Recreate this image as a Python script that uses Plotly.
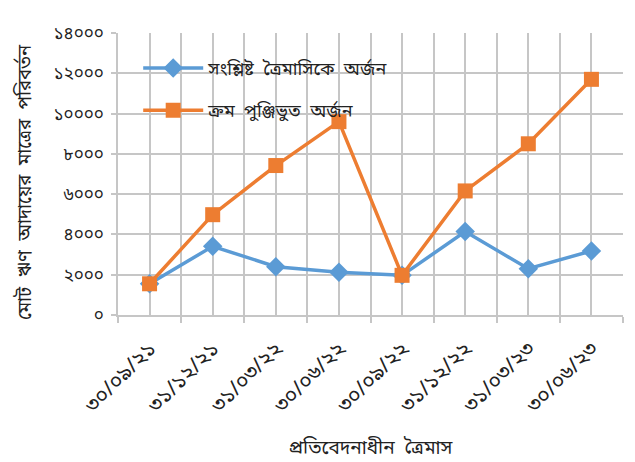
import plotly.graph_objects as go

quarters = ["৩০/০৯/২১", "৩১/১২/২১", "৩১/০৩/২২", "৩০/০৬/২২",
            "৩০/০৯/২২", "৩১/১২/২২", "৩১/০৩/২৩", "৩০/০৬/২৩"]
quarterly = [1550, 3410, 2400, 2120, 1970, 4140, 2300, 3180]
cumulative = [1550, 4980, 7420, 9600, 1970, 6160, 8500, 11700]
y_ticks = [0, 2000, 4000, 6000, 8000, 10000, 12000, 14000]
y_tick_text = ["০", "২০০০", "৪০০০", "৬০০০", "৮০০০", "১০০০০", "১২০০০", "১৪০০০"]
series_names = ["সংশ্লিষ্ট  ত্রৈমাসিকে  অর্জন", "ক্রম  পুঞ্জিভুত  অর্জন"]
x_title = "প্রতিবেদনাধীন  ত্রৈমাস"
y_title = "মোট  ঋণ  আদায়ের  মাত্রের  পরিবর্তন"

xs = list(range(len(quarters)))
bounds = [i - 0.5 for i in range(len(quarters) + 1)]
FONT = "Noto Sans Bengali, Lohit Bengali, Noto Sans, sans-serif"
GRID = "#C6C6C6"

fig = go.Figure()
fig.add_trace(go.Scatter(
    x=xs, y=quarterly, name=series_names[0], mode="lines+markers",
    line=dict(color="#5B9BD5", width=3.5),
    marker=dict(symbol="diamond", size=15, color="#5B9BD5"),
    legend="legend"))
fig.add_trace(go.Scatter(
    x=xs, y=cumulative, name=series_names[1], mode="lines+markers",
    line=dict(color="#ED7D31", width=3.5),
    marker=dict(symbol="square", size=15, color="#ED7D31"),
    legend="legend2"))

fig.update_layout(
    width=627, height=454,
    margin=dict(l=110, r=12, t=25, b=147),
    paper_bgcolor="white", plot_bgcolor="white",
    font=dict(family=FONT, color="#222222", size=17),
    showlegend=True,
    legend=dict(x=0.04, y=0.875, xanchor="left", yanchor="middle",
                bgcolor="rgba(0,0,0,0)", font=dict(size=18), itemwidth=60),
    legend2=dict(x=0.04, y=0.725, xanchor="left", yanchor="middle",
                 bgcolor="rgba(0,0,0,0)", font=dict(size=18), itemwidth=60),
    xaxis=dict(
        range=[-0.5, len(quarters) - 0.5], automargin=False,
        tickmode="array", tickvals=xs, ticktext=quarters,
        tickangle=-45, ticks="", showgrid=True, gridcolor=GRID, gridwidth=1.5,
        tickfont=dict(size=21), ticklabelstandoff=11,
        minor=dict(tickmode="array", tickvals=bounds, ticks="outside",
                   ticklen=6, tickcolor=GRID, tickwidth=1.5,
                   showgrid=True, gridcolor=GRID, gridwidth=1.5),
        showline=True, linecolor=GRID, linewidth=1.5, zeroline=False,
        title=dict(text=x_title, font=dict(size=19), standoff=28),
    ),
    yaxis=dict(
        range=[0, 14000], automargin=False,
        tickmode="array", tickvals=y_ticks, ticktext=y_tick_text,
        ticks="outside", ticklen=5, tickcolor=GRID, tickwidth=1.5,
        ticklabelstandoff=4,
        showgrid=True, gridcolor=GRID, gridwidth=1.5,
        showline=True, linecolor=GRID, linewidth=1.5, zeroline=False,
        tickfont=dict(size=17),
    ),
    annotations=[dict(text=y_title, xref="paper", yref="paper",
                      x=-0.182, y=0.472, xanchor="center", yanchor="middle",
                      textangle=-90, showarrow=False,
                      font=dict(size=18.5, family=FONT, color="#222222"))],
    shapes=[dict(type="line", xref="paper", yref="paper",
                 x0=-0.3, x1=1.1, y0=1.099, y1=1.099,
                 line=dict(color="#1a1a1a", width=4))],
)

fig.write_html("out.html")
